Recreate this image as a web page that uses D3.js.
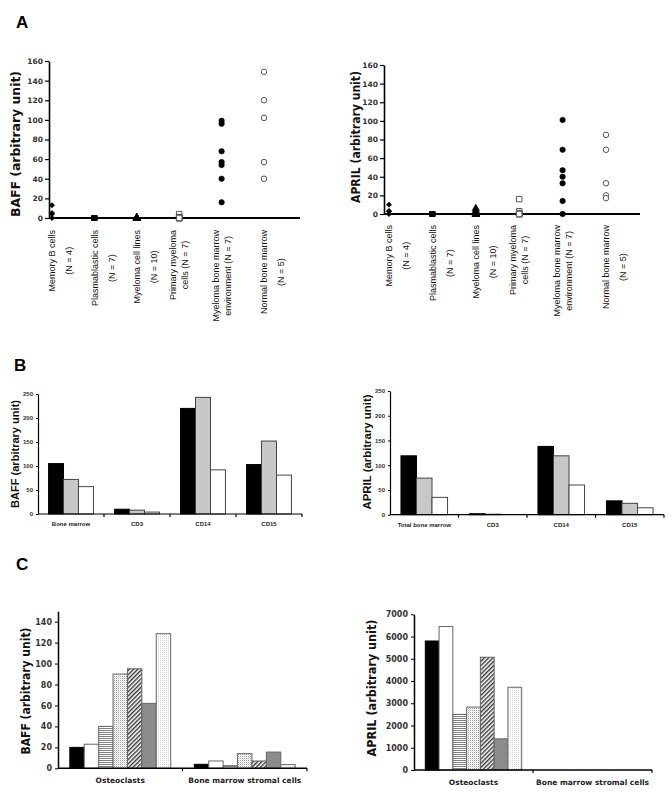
<!DOCTYPE html>
<html><head><meta charset="utf-8">
<script src="https://cdn.jsdelivr.net/npm/d3@7"></script>
<style>body{margin:0;background:#fff}svg{display:block}</style>
</head><body>
<svg id="c" width="672" height="797"></svg>
<script>
// ---------- DATA ----------
// Panel A
const aCategoryLines = [
  ["Memory B cells", "(N = 4)"],
  ["Plasmablastic cells", "(N = 7)"],
  ["Myeloma cell lines", "(N = 10)"],
  ["Primary myeloma", "cells (N = 7)"],
  ["Myeloma bone marrow", "environment (N = 7)"],
  ["Normal bone marrow", "(N = 5)"]
];
const aMarkers = ["diamond", "square", "triangle", "openSquare", "circle", "openCircle"];
const aBaffDots = [
  [13, 5, 4, 0],
  [0, 0, 0, 0, 0, 0, 0],
  [0, 0, 0, 0, 0, 0, 0, 0, 0, 0],
  [4, 1, 0, 0, 0, 0, 0],
  [99, 96, 68, 57, 54, 40, 16],
  [149, 120, 102, 57, 40]
];
const aAprilDots = [
  [10, 3, 3, 0],
  [0, 0, 0, 0, 0, 0, 0],
  [6, 4, 2, 1, 0, 0, 0, 0, 0, 0],
  [16, 3, 1, 0, 0, 0, 0],
  [101, 69, 47, 40, 33, 14, 0],
  [85, 69, 33, 20, 17]
];
const aTicks = [0, 20, 40, 60, 80, 100, 120, 140, 160];

// Panel B
const bBaffCategories = ["Bone marrow", "CD3", "CD14", "CD15"];
const bAprilCategories = ["Total bone marrow", "CD3", "CD14", "CD15"];
const bSeriesFills = ["#000000", "#c8c8c8", "#ffffff"];
const bBaffValues = [[105, 72, 57], [10, 8, 4], [220, 243, 92], [103, 152, 81]];
const bAprilValues = [[119, 74, 35], [2, 1, 0], [138, 119, 60], [28, 23, 14]];
const bTicks = [0, 50, 100, 150, 200, 250];

// Panel C
const cCategories = ["Osteoclasts", "Bone marrow stromal cells"];
const cSeriesFills = ["black", "white", "hstripe", "dots", "diag", "darkgrey", "lightdots"];
const cBaffValues = [[20, 23, 40, 90, 95, 62, 128.5], [3.8, 7, 2.5, 14, 7, 15.5, 3.5]];
const cAprilValues = [[5800, 6450, 2500, 2830, 5070, 1400, 3720], [0, 0, 0, 0, 0, 0, 0]];
const cBaffTicks = [0, 20, 40, 60, 80, 100, 120, 140];
const cAprilTicks = [0, 1000, 2000, 3000, 4000, 5000, 6000, 7000];

// ---------- DRAWING ----------
const svg = d3.select("#c");
svg.append("rect").attr("width", 672).attr("height", 797).attr("fill", "#fff");

// patterns
const defs = svg.append("defs");
function pat(id, w, h, build, transform) {
  const p = defs.append("pattern").attr("id", id).attr("patternUnits", "userSpaceOnUse")
    .attr("width", w).attr("height", h);
  if (transform) p.attr("patternTransform", transform);
  p.append("rect").attr("width", w).attr("height", h).attr("fill", "#fff");
  build(p);
}
pat("hstripe", 4, 2, p => p.append("rect").attr("width", 4).attr("height", 1).attr("fill", "#808080"));
pat("dots", 2, 2, p => {
  p.append("rect").attr("width", 1).attr("height", 1).attr("fill", "#a0a0a0");
  p.append("rect").attr("x", 1).attr("y", 1).attr("width", 1).attr("height", 1).attr("fill", "#e6e6e6");
});
pat("diag", 3, 3, p => p.append("rect").attr("width", 1.4).attr("height", 3).attr("fill", "#333"), "rotate(45)");
pat("lightdots", 2, 2, p => p.append("rect").attr("width", 1).attr("height", 1).attr("fill", "#d2d2d2"));
const cFillMap = {
  black: "#000", white: "#fff", hstripe: "url(#hstripe)", dots: "url(#dots)",
  diag: "url(#diag)", darkgrey: "#8c8c8c", lightdots: "url(#lightdots)"
};

function rotTitle(text, cx, cy, size, len, family) {
  svg.append("text")
    .attr("transform", `translate(${cx},${cy}) rotate(-90)`)
    .attr("text-anchor", "middle").attr("dy", "0.35em")
    .attr("font-family", family).attr("font-weight", "bold").attr("font-size", size)
    .attr("textLength", len).attr("lengthAdjust", "spacingAndGlyphs")
    .attr("fill", "#111").text(text);
}

function panelLetter(t, x, y) {
  svg.append("text").attr("x", x).attr("y", y).attr("font-family", "Liberation Sans, Arial, sans-serif")
    .attr("font-weight", "bold").attr("font-size", 17).attr("fill", "#000").text(t);
}
panelLetter("A", 16, 28);
panelLetter("B", 14, 371);
panelLetter("C", 16, 570);

// ---- Panel A (dot plots) ----
function dotPanel(o) {
  const g = svg.append("g");
  const y = d3.scaleLinear().domain([0, 160]).range([o.yZero, o.yTop]);
  const x = d3.scalePoint().domain(d3.range(aCategoryLines.length)).range([o.xFirst, o.xLast]);
  const ax = g.append("g").attr("transform", `translate(${o.axisX},0)`)
    .call(d3.axisLeft(y).tickValues(aTicks).tickSize(4).tickSizeOuter(0).tickPadding(2));
  ax.select(".domain").attr("stroke", "#000").attr("stroke-width", 1.6);
  ax.selectAll(".tick line").attr("stroke", "#000").attr("stroke-width", 1.2);
  ax.selectAll(".tick text").attr("font-family", "DejaVu Sans, Verdana, sans-serif")
    .attr("font-weight", "bold").attr("font-size", 7.5).attr("fill", "#333");
  // x axis line
  g.append("line").attr("x1", o.axisX).attr("x2", o.xEnd).attr("y1", y(0)).attr("y2", y(0))
    .attr("stroke", "#000").attr("stroke-width", 2);
  // points
  const symbolType = { diamond: d3.symbolSquare, square: d3.symbolSquare, triangle: d3.symbolTriangle,
    openSquare: d3.symbolSquare, circle: d3.symbolCircle, openCircle: d3.symbolCircle };
  const symbolSize = { diamond: 14, square: 25, triangle: 24, openSquare: 30, circle: 24, openCircle: 24 };
  o.data.forEach((vals, i) => {
    const m = aMarkers[i];
    const open = m.startsWith("open");
    const rot = m === "diamond" ? " rotate(45)" : "";
    g.selectAll(null).data(vals).enter().append("path")
      .attr("d", d3.symbol().type(symbolType[m]).size(symbolSize[m]))
      .attr("transform", d => `translate(${x(i)},${y(d)})${rot}`)
      .attr("fill", open ? "#fff" : "#000")
      .attr("stroke", open ? "#555" : "#000").attr("stroke-width", open ? 1 : 0.5);
  });
  // category labels (rotated, centered lines)
  aCategoryLines.forEach((lines, i) => {
    const tg = g.append("g");
    const nLine = lines[1].startsWith("(N");
    const offs = nLine ? [0, 17] : [-6, 6];
    const texts = lines.map((ln, j) => tg.append("text")
      .attr("font-family", "Liberation Sans, Arial, sans-serif").attr("font-size", 9)
      .attr("fill", "#111").attr("text-anchor", "middle").text(ln));
    const maxW = d3.max(texts, t => t.node().getComputedTextLength());
    texts.forEach((t, j) => {
      const cx = x(i) + offs[j] + 3.2;
      const cy = o.labelTop + maxW / 2;
      t.attr("transform", `translate(${cx},${cy}) rotate(-90)`);
    });
  });
  rotTitle(o.title, o.titleX, o.titleY, 13, o.titleLen, "DejaVu Sans, Verdana, sans-serif");
}
dotPanel({ axisX: 49, xFirst: 52, xLast: 264, xEnd: 300, yZero: 218, yTop: 61, data: aBaffDots,
  labelTop: 230, title: "BAFF (arbitrary unit)", titleX: 15, titleY: 144, titleLen: 146 });
dotPanel({ axisX: 384, xFirst: 389, xLast: 606, xEnd: 640, yZero: 214, yTop: 65, data: aAprilDots,
  labelTop: 225, title: "APRIL (arbitrary unit)", titleX: 355, titleY: 137, titleLen: 132 });

// ---- Bar panels ----
function barPanel(o) {
  const g = svg.append("g");
  const y = d3.scaleLinear().domain([0, o.yMax]).range([o.yZero, o.yTop]);
  const x = d3.scaleBand().domain(o.categories).range([o.axisX, o.xEnd]).padding(0);
  const nS = o.values[0].length;
  const bw = x.bandwidth() * o.groupFrac;
  const xi = d3.scaleBand().domain(d3.range(nS)).range([(x.bandwidth() - bw) / 2, (x.bandwidth() + bw) / 2]).padding(0);
  // bars
  o.categories.forEach((cat, ci) => {
    g.selectAll(null).data(o.values[ci]).enter().append("rect")
      .attr("x", (d, si) => x(cat) + xi(si))
      .attr("y", d => y(d))
      .attr("width", xi.bandwidth())
      .attr("height", d => Math.max(0, y(0) - y(d)))
      .attr("fill", (d, si) => o.fill(si))
      .attr("stroke", (d, si) => si === 0 ? "#000" : o.barStroke)
      .attr("stroke-width", o.barStrokeW)
      .attr("display", d => d > 0 ? null : "none");
  });
  // y axis
  const ax = g.append("g").attr("transform", `translate(${o.axisX},0)`)
    .call(d3.axisLeft(y).tickValues(o.ticks).tickFormat(d3.format("d"))
      .tickSize(o.tickLen).tickSizeOuter(0).tickPadding(o.tickPad));
  ax.select(".domain").attr("stroke", "#000").attr("stroke-width", o.axisW);
  ax.selectAll(".tick line").attr("stroke", "#000").attr("stroke-width", 1);
  ax.selectAll(".tick text").attr("font-family", o.tickFamily).attr("font-weight", "bold")
    .attr("font-size", o.tickSize).attr("fill", "#333");
  // x axis
  g.append("line").attr("x1", o.axisX).attr("x2", o.xEnd).attr("y1", y(0)).attr("y2", y(0))
    .attr("stroke", "#000").attr("stroke-width", o.axisW);
  g.selectAll(null).data(o.categories).enter().append("line")
    .attr("x1", d => x(d) + x.bandwidth()).attr("x2", d => x(d) + x.bandwidth())
    .attr("y1", y(0)).attr("y2", y(0) + 3).attr("stroke", "#000").attr("stroke-width", 1.2);
  g.selectAll(null).data(o.categories).enter().append("text")
    .attr("x", d => x(d) + x.bandwidth() / 2).attr("y", y(0) + o.labelDy)
    .attr("text-anchor", "middle").attr("font-family", o.labelFamily).attr("font-weight", "bold")
    .attr("font-size", o.labelSize).attr("fill", "#222").text(d => d);
  rotTitle(o.title, o.titleX, o.titleY, o.titleSize, o.titleLen, o.titleFamily);
}

const bCommon = { yMax: 250, ticks: bTicks, groupFrac: 0.68, fill: si => bSeriesFills[si],
  barStroke: "#444", barStrokeW: 1, tickLen: 2, tickPad: 3, axisW: 1.2,
  tickFamily: "Liberation Sans, Arial, sans-serif", tickSize: 6,
  labelFamily: "Liberation Sans, Arial, sans-serif", labelSize: 6, labelDy: 12,
  titleSize: 11.5, titleFamily: "Liberation Sans, Arial, sans-serif" };
barPanel(Object.assign({}, bCommon, { categories: bBaffCategories, values: bBaffValues,
  axisX: 38, xEnd: 302, yZero: 514, yTop: 394, title: "BAFF (arbitrary unit)", titleX: 15, titleY: 454, titleLen: 108 }));
barPanel(Object.assign({}, bCommon, { categories: bAprilCategories, values: bAprilValues,
  axisX: 390, xEnd: 664, yZero: 514.7, yTop: 391, title: "APRIL (arbitrary unit)", titleX: 367, titleY: 452, titleLen: 115 }));

const cCommon = { categories: cCategories, groupFrac: 0.81, fill: si => cFillMap[cSeriesFills[si]],
  barStroke: "#666", barStrokeW: 1, tickLen: 3, tickPad: 3, axisW: 1.5,
  tickFamily: "DejaVu Sans, Verdana, sans-serif", tickSize: 8,
  labelFamily: "DejaVu Sans, Verdana, sans-serif", labelSize: 7.5, labelDy: 15,
  titleSize: 12.5, titleFamily: "DejaVu Sans, Verdana, sans-serif" };
barPanel(Object.assign({}, cCommon, { values: cBaffValues, yMax: 150, ticks: cBaffTicks,
  axisX: 58, xEnd: 307, yZero: 768.3, yTop: 611.2, title: "BAFF (arbitrary unit)", titleX: 26, titleY: 691, titleLen: 127 }));
barPanel(Object.assign({}, cCommon, { values: cAprilValues, yMax: 7000, ticks: cAprilTicks,
  axisX: 414, xEnd: 652, yZero: 770, yTop: 614.3, title: "APRIL (arbitrary unit)", titleX: 372, titleY: 688, titleLen: 137 }));
</script>
</body></html>
